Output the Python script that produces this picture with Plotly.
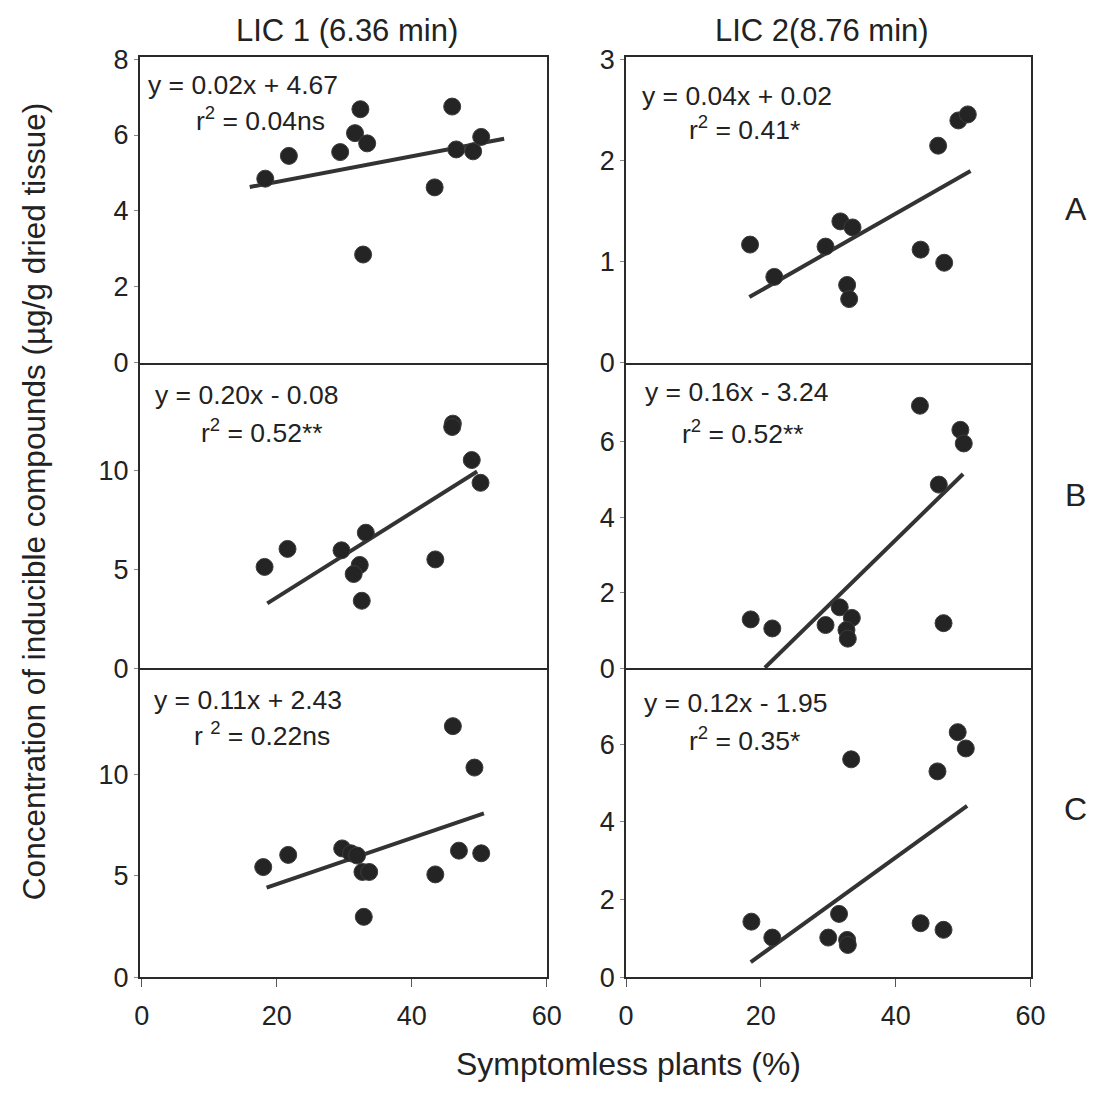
import plotly.graph_objects as go

W, H = 1117, 1099

# ---------------- data ----------------
# Row A (LIC 1 left, LIC 2 right)
x_a1 = [18.3, 21.8, 29.4, 31.6, 32.4, 33.4, 32.8, 43.4, 46.0, 46.6, 49.1, 50.3]
y_a1 = [4.85, 5.45, 5.55, 6.05, 6.68, 5.78, 2.85, 4.62, 6.75, 5.62, 5.57, 5.95]
line_a1_x = [16.0, 53.7]
line_a1_y = [4.63, 5.90]

x_a2 = [18.4, 22.0, 29.6, 31.8, 33.6, 32.8, 33.1, 43.7, 47.2, 46.3, 49.3, 50.7]
y_a2 = [1.17, 0.85, 1.15, 1.40, 1.34, 0.77, 0.63, 1.12, 0.99, 2.15, 2.40, 2.46]
line_a2_x = [18.3, 51.1]
line_a2_y = [0.65, 1.90]

# Row B
x_b1 = [18.2, 21.6, 29.6, 33.2, 32.3, 31.4, 32.6, 43.5, 46.1, 46.0, 48.9, 50.2]
y_b1 = [5.13, 6.04, 5.97, 6.86, 5.23, 4.77, 3.42, 5.51, 12.37, 12.2, 10.53, 9.38]
line_b1_x = [18.6, 49.7]
line_b1_y = [3.29, 9.95]

x_b2 = [18.5, 21.7, 29.6, 31.7, 33.5, 32.7, 32.9, 43.6, 46.4, 47.1, 49.6, 50.1]
y_b2 = [1.30, 1.06, 1.15, 1.62, 1.34, 1.02, 0.79, 6.96, 4.87, 1.20, 6.32, 5.96]
line_b2_x = [20.6, 50.0]
line_b2_y = [0.02, 5.15]

# Row C
x_c1 = [18.0, 21.7, 29.7, 31.0, 31.9, 32.7, 33.7, 32.9, 43.5, 46.1, 47.0, 49.3, 50.3]
y_c1 = [5.42, 6.02, 6.34, 6.10, 5.99, 5.18, 5.18, 2.97, 5.06, 12.36, 6.23, 10.32, 6.10]
line_c1_x = [18.5, 50.7]
line_c1_y = [4.41, 8.07]

x_c2 = [18.6, 21.7, 30.0, 31.6, 32.8, 32.9, 33.4, 43.7, 46.2, 47.1, 49.2, 50.4]
y_c2 = [1.43, 1.02, 1.02, 1.63, 0.96, 0.83, 5.61, 1.39, 5.30, 1.22, 6.31, 5.89]
line_c2_x = [18.5, 50.6]
line_c2_y = [0.39, 4.41]

eq_text = ["y = 0.02x + 4.67", "y = 0.04x + 0.02",
           "y = 0.20x - 0.08", "y = 0.16x - 3.24",
           "y = 0.11x + 2.43", "y = 0.12x - 1.95"]
r2_text = ["r<sup>2</sup> = 0.04ns", "r<sup>2</sup> = 0.41*",
           "r<sup>2</sup> = 0.52**", "r<sup>2</sup> = 0.52**",
           "r <sup>2</sup> = 0.22ns", "r<sup>2</sup> = 0.35*"]

y_ranges = [[0, 8.06], [0, 3.03], [0, 15.45], [0, 8.1], [0, 15.2], [0, 7.95]]
y_ticks = [[0, 2, 4, 6, 8], [0, 1, 2, 3], [0, 5, 10], [0, 2, 4, 6], [0, 5, 10], [0, 2, 4, 6]]
x_ranges = [[-0.3, 60.0], [0, 60]]
x_ticks = [0, 20, 40, 60]

col_titles = ["LIC 1 (6.36 min)", "LIC 2(8.76 min)"]
row_labels = ["A", "B", "C"]
x_title = "Symptomless plants (%)"
y_title = "Concentration of inducible compounds (µg/g dried tissue)"

# ---------------- layout geometry (pixels -> paper) ----------------
def px(v):
    return v / W

def py(v):
    return 1 - v / H

col_dom = [[px(134.5), px(550)], [px(631), px(1044)]]
row_px = [[46, 359.5], [359.5, 673], [673, 989.5]]
row_dom = [[py(b), py(t)] for t, b in row_px]

FONT = "Liberation Sans, Arial, Helvetica, sans-serif"
INK = "#222222"

data = [
    (x_a1, y_a1, line_a1_x, line_a1_y),
    (x_a2, y_a2, line_a2_x, line_a2_y),
    (x_b1, y_b1, line_b1_x, line_b1_y),
    (x_b2, y_b2, line_b2_x, line_b2_y),
    (x_c1, y_c1, line_c1_x, line_c1_y),
    (x_c2, y_c2, line_c2_x, line_c2_y),
]

fig = go.Figure()
layout = dict(
    width=W, height=H,
    margin=dict(l=0, r=0, t=0, b=0),
    paper_bgcolor="white", plot_bgcolor="white",
    showlegend=False,
    font=dict(family=FONT, color=INK, size=24),
)

for i, (xs, ys, lx, ly) in enumerate(data):
    r, c = divmod(i, 2)
    n = i + 1
    xa = "x" if n == 1 else f"x{n}"
    ya = "y" if n == 1 else f"y{n}"
    fig.add_trace(go.Scatter(x=lx, y=ly, mode="lines", xaxis=xa, yaxis=ya,
                             line=dict(color="#333333", width=4), hoverinfo="skip"))
    fig.add_trace(go.Scatter(x=xs, y=ys, mode="markers", xaxis=xa, yaxis=ya,
                             marker=dict(size=17, color="#242424",
                                         line=dict(color="#3c3c3c", width=1))))
    bottom = (r == 2)
    layout["xaxis" if n == 1 else f"xaxis{n}"] = dict(
        domain=col_dom[c], range=x_ranges[c], anchor=ya,
        showline=True, mirror=(r == 0), linecolor="#2a2a2a", linewidth=1.8,
        showgrid=False, zeroline=False,
        tickmode="array", tickvals=x_ticks,
        showticklabels=bottom, ticks="outside" if bottom else "",
        ticklen=8, tickcolor="#555555", tickwidth=1,
        ticklabelstandoff=6,
        tickfont=dict(size=27, family=FONT, color=INK),
    )
    layout["yaxis" if n == 1 else f"yaxis{n}"] = dict(
        domain=row_dom[r], range=y_ranges[i], anchor=xa,
        showline=True, mirror=True, linecolor="#2a2a2a", linewidth=1.8,
        showgrid=False, zeroline=False,
        tickmode="array", tickvals=y_ticks[i],
        ticks="outside", ticklen=4, tickcolor="#888888", tickwidth=1,
        tickfont=dict(size=27, family=FONT, color=INK),
    )

ann = []
# equation / r2 positions (pixel anchors, left-aligned)
eq_pos = [(141, 75), (645, 86.5), (148, 393), (648.5, 389.5), (147, 705), (647, 708)]
r2_pos = [(190, 110), (693, 119), (195, 430), (686, 430.5), (188, 740), (693, 745.5)]
for i in range(6):
    ann.append(dict(text=eq_text[i], x=px(eq_pos[i][0]), y=py(eq_pos[i][1]),
                    xref="paper", yref="paper", xanchor="left", yanchor="middle",
                    showarrow=False, font=dict(size=26.5, family=FONT, color=INK)))
    ann.append(dict(text=r2_text[i], x=px(r2_pos[i][0]), y=py(r2_pos[i][1]),
                    xref="paper", yref="paper", xanchor="left", yanchor="middle",
                    showarrow=False, font=dict(size=26.5, family=FONT, color=INK)))

def center_text(text, x, y, size, angle=0):
    return dict(text=text, x=px(x), y=py(y), xref="paper", yref="paper",
                xanchor="center", yanchor="middle", textangle=angle,
                showarrow=False, font=dict(size=size, family=FONT, color=INK))

ann.append(center_text(col_titles[0], 346.5, 19, 31))
ann.append(center_text(col_titles[1], 831.5, 19, 31))
for lab, yy in zip(row_labels, [202, 495.5, 817.5]):
    ann.append(center_text(lab, 1090, yy, 32))
ann.append(center_text(x_title, 634, 1079, 32))
ann.append(center_text(y_title, 26, 502, 31.5, -90))

layout["annotations"] = ann
fig.update_layout(**layout)
fig.write_html("out.html")
